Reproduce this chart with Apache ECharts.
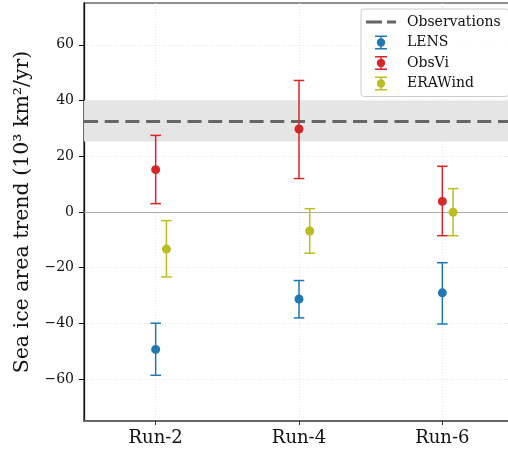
<!DOCTYPE html>
<html><head><meta charset="utf-8">
<script src="https://cdn.jsdelivr.net/npm/echarts@6/dist/echarts.min.js"></script>
<style>html,body{margin:0;padding:0;background:#fff}#c{width:508px;height:455px}</style>
</head><body><div id="c"></div>
<script>
// ---- data ----
const categories = ['Run-2', 'Run-4', 'Run-6'];
const yTicks = [-60, -40, -20, 0, 20, 40, 60];
const lensMean = [-49.3, -31.2, -29.0];
const lensLow = [-58.6, -38.0, -40.2];
const lensHigh = [-39.9, -24.6, -18.2];
const obsviMean = [15.2, 29.8, 3.8];
const obsviLow = [3.0, 12.0, -8.5];
const obsviHigh = [27.5, 47.2, 16.4];
const erawindMean = [-13.3, -6.8, -0.1];
const erawindLow = [-23.3, -14.8, -8.5];
const erawindHigh = [-3.1, 1.2, 8.4];
const obsValue = [32.7];
const obsRange = [25.3, 40.0];

// ---- build ----
const FONT = 'DejaVu Serif';
const dx = { LENS: 0, ObsVi: 0, ERAWind: 0.075 };
const colors = { LENS: '#1f77b4', ObsVi: '#d62728', ERAWind: '#bcbd22', Observations: '#666666' };

function errRender(params, api) {
  const x = api.value(0), lo = api.value(1), hi = api.value(2);
  const pLo = api.coord([x, lo]), pHi = api.coord([x, hi]);
  const c = api.visual('color');
  const hw = 5.3;
  const st = { stroke: c, lineWidth: 1.5 };
  return { type: 'group', children: [
    { type: 'line', shape: { x1: pLo[0], y1: pLo[1], x2: pHi[0], y2: pHi[1] }, style: st },
    { type: 'line', shape: { x1: pLo[0] - hw, y1: pLo[1], x2: pLo[0] + hw, y2: pLo[1] }, style: st },
    { type: 'line', shape: { x1: pHi[0] - hw, y1: pHi[1], x2: pHi[0] + hw, y2: pHi[1] }, style: st }
  ]};
}

function makeSeries(name, mean, low, high) {
  const off = dx[name];
  return [
    { name, type: 'custom', renderItem: errRender, z: 5, clip: false,
      itemStyle: { color: colors[name] },
      encode: { x: 0, y: [1, 2] },
      data: mean.map((m, i) => [i + off, low[i], high[i]]) },
    { name, type: 'scatter', symbol: 'circle', symbolSize: 9, z: 6,
      itemStyle: { color: colors[name], opacity: 1 },
      data: mean.map((m, i) => [i + off, m]) }
  ];
}

const ebIcon = 'path://M0 0h12v1.5h-12z M5.25 0h1.5v14h-1.5z M0 12.5h12v1.5h-12z M1.8 7a4.2 4.2 0 1 1 8.4 0a4.2 4.2 0 1 1 -8.4 0z';
const dashIcon = 'path://M0 0h16v3.2h-16z M21 0h9v3.2h-9z';

const option = {
  animation: false,
  backgroundColor: '#fff',
  grid: { left: 84, top: 3, width: 430, height: 418, containLabel: false, outerBoundsMode: 'none',
    show: true, borderColor: '#222', borderWidth: 1.2, backgroundColor: 'transparent' },
  legend: {
    left: 361, top: 9, orient: 'vertical', selectedMode: false,
    padding: [6, 8, 6, 5], itemGap: 6.5, itemWidth: 30, itemHeight: 14,
    borderColor: '#cccccc', borderWidth: 1, borderRadius: 3,
    backgroundColor: 'rgba(255,255,255,0.85)',
    textStyle: { fontFamily: FONT, fontSize: 14, color: '#111', padding: [0, 0, 0, 6] },
    itemStyle: { borderWidth: 0 },
    data: [
      { name: 'Observations', icon: dashIcon },
      { name: 'LENS', icon: ebIcon },
      { name: 'ObsVi', icon: ebIcon },
      { name: 'ERAWind', icon: ebIcon }
    ]
  },
  xAxis: {
    type: 'value', min: -0.5, max: 2.5,
    axisLine: { show: true, onZero: false, lineStyle: { color: '#666', width: 2 } },
    axisTick: { show: true, length: 4, customValues: [0, 1, 2], lineStyle: { color: '#333', width: 1 } },
    axisLabel: { customValues: [0, 1, 2], formatter: v => categories[Math.round(v)], fontFamily: FONT, fontSize: 18, color: '#111', margin: 8 },
    splitLine: { show: true, lineStyle: { color: '#dddddd', width: 0.8, type: [1, 2] } }
  },
  yAxis: {
    type: 'value', min: -75, max: 75,
    name: 'Sea ice area trend (10\u00b3 km\u00b2/yr)', nameLocation: 'middle', nameGap: 51,
    nameTextStyle: { fontFamily: FONT, fontSize: 20.5, color: '#111' },
    axisLine: { show: true, onZero: false, lineStyle: { color: '#111', width: 1.3 } },
    axisTick: { show: true, length: 5, customValues: yTicks, lineStyle: { color: '#111', width: 1 } },
    axisLabel: { customValues: yTicks, formatter: v => String(v).replace('-', '\u2212'), fontFamily: FONT, fontSize: 14, color: '#111', margin: 10 },
    splitLine: { show: true, lineStyle: { color: '#dddddd', width: 0.8, type: [1, 2] } }
  },
  series: [
    { name: 'Observations', type: 'line', data: [], z: 3,
      itemStyle: { color: colors.Observations }, lineStyle: { color: colors.Observations, width: 3, type: [14, 6.7] },
      markArea: { silent: true, itemStyle: { color: '#e5e5e5' }, data: [[{ yAxis: obsRange[0] }, { yAxis: obsRange[1] }]] },
      markLine: { silent: true, symbol: 'none', label: { show: false },
        data: [
          { yAxis: obsValue[0], lineStyle: { color: colors.Observations, width: 3, type: [14, 6.7] } },
          { yAxis: 0, lineStyle: { color: '#aaaaaa', width: 1, type: 'solid' } }
        ] } },
    ...makeSeries('LENS', lensMean, lensLow, lensHigh),
    ...makeSeries('ObsVi', obsviMean, obsviLow, obsviHigh),
    ...makeSeries('ERAWind', erawindMean, erawindLow, erawindHigh)
  ]
};
const chart = echarts.init(document.getElementById('c'), null, { renderer: 'canvas' });
chart.setOption(option);
</script>
</body></html>
